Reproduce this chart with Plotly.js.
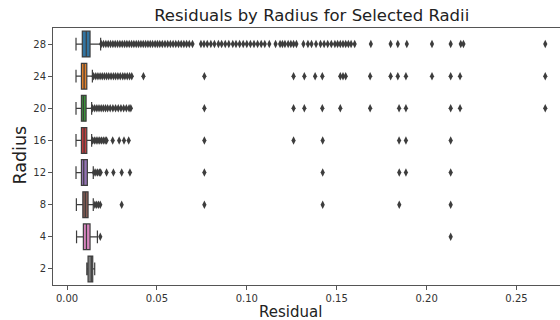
<!DOCTYPE html>
<html>
<head>
<meta charset="utf-8">
<script src="https://cdn.plot.ly/plotly-3.0.1.min.js"></script>
<style>html,body{margin:0;padding:0;background:#fff;overflow:hidden}#chart{width:560px;height:320px}</style>
</head>
<body>
<div id="chart"></div>
<script>
// Data
const radii = ['28', '24', '20', '16', '12', '8', '4', '2'];
const lowerFence = [0.0050, 0.0050, 0.0050, 0.0050, 0.0050, 0.0052, 0.0053, 0.0110];
const q1 = [0.0085, 0.0080, 0.0080, 0.0080, 0.0080, 0.0088, 0.0091, 0.0117];
const median = [0.0107, 0.0095, 0.0091, 0.0095, 0.0093, 0.0102, 0.0108, 0.0135];
const q3 = [0.0128, 0.0110, 0.0106, 0.0110, 0.0113, 0.0117, 0.0128, 0.0143];
const upperFence = [0.0187, 0.0141, 0.0137, 0.0137, 0.0146, 0.0146, 0.0169, 0.0154];
const colors = ['#3274a1', '#e1812c', '#3a923a', '#c03d3e', '#9372b2', '#845b53', '#d684bd', '#7f7f7f'];

const out28 = [0.0190, 0.0203, 0.0216, 0.0229, 0.0242, 0.0255, 0.0268, 0.0281, 0.0294, 0.0307, 0.0320, 0.0333,
  0.0346, 0.0359, 0.0372, 0.0385, 0.0398, 0.0411, 0.0424, 0.0437, 0.0450, 0.0463, 0.0476, 0.0490, 0.0503,
  0.0516, 0.0530, 0.0545, 0.0560, 0.0575, 0.0590, 0.0605, 0.0620, 0.0635, 0.0650, 0.0665, 0.0680, 0.0698,
  0.0745, 0.0762, 0.0780, 0.0800, 0.0820, 0.0842, 0.0860, 0.0880, 0.0900, 0.0922, 0.0940, 0.0960, 0.0980,
  0.1000, 0.1020, 0.1040, 0.1060, 0.1080, 0.1100, 0.1125, 0.1160, 0.1185, 0.1198, 0.1212, 0.1230, 0.1245,
  0.1260, 0.1276, 0.1315, 0.1340, 0.1360, 0.1385, 0.1410, 0.1430, 0.1450, 0.1470, 0.1490, 0.1505, 0.1520,
  0.1535, 0.1550, 0.1565, 0.1580, 0.1600, 0.1690, 0.1800, 0.1840, 0.1890, 0.2030, 0.2134, 0.2190, 0.2205, 0.2660];
const out24 = [0.0148, 0.0160, 0.0172, 0.0184, 0.0196, 0.0208, 0.0220, 0.0232, 0.0245, 0.0258, 0.0270, 0.0283,
  0.0296, 0.0310, 0.0322, 0.0335, 0.0348, 0.0360, 0.0425, 0.0764, 0.1260, 0.1320, 0.1380, 0.1420, 0.1520,
  0.1535, 0.1550, 0.1686, 0.1800, 0.1840, 0.1885, 0.2030, 0.2134, 0.2186, 0.2660];
const out20 = [0.0142, 0.0154, 0.0166, 0.0178, 0.0190, 0.0202, 0.0214, 0.0226, 0.0240, 0.0255, 0.0270, 0.0285,
  0.0300, 0.0315, 0.0330, 0.0345, 0.0355, 0.0764, 0.1260, 0.1320, 0.1420, 0.1520, 0.1686, 0.1847, 0.1885,
  0.2134, 0.2186, 0.2660];
const out16 = [0.0142, 0.0152, 0.0162, 0.0172, 0.0182, 0.0192, 0.0202, 0.0212, 0.0220, 0.0254, 0.0290, 0.0317,
  0.0343, 0.0764, 0.1260, 0.1422, 0.1847, 0.1885, 0.2134];
const out12 = [0.0150, 0.0160, 0.0170, 0.0180, 0.0187, 0.0220, 0.0258, 0.0304, 0.0350, 0.0764, 0.1422, 0.1848,
  0.1885, 0.2134];
const out8 = [0.0155, 0.0165, 0.0175, 0.0185, 0.0304, 0.0764, 0.1422, 0.1848, 0.2134];
const out4 = [0.0185, 0.2134];
const out2 = [];
const outliers = [out28, out24, out20, out16, out12, out8, out4, out2];

const xTicks = [0.00, 0.05, 0.10, 0.15, 0.20, 0.25];

const lineCol = '#3d3d3d';
const traces = [];
radii.forEach((r, i) => {
  traces.push({
    type: 'box', orientation: 'h', y: [r],
    q1: [q1[i]], median: [median[i]], q3: [q3[i]],
    lowerfence: [lowerFence[i]], upperfence: [upperFence[i]],
    fillcolor: colors[i], line: {color: lineCol, width: 1.2},
    width: 0.8, whiskerwidth: 0.5, boxpoints: false,
    hoverinfo: 'skip', showlegend: false
  });
});
radii.forEach((r, i) => {
  if (!outliers[i].length) return;
  traces.push({
    type: 'scatter', mode: 'markers',
    x: outliers[i], y: outliers[i].map(() => r),
    marker: {symbol: 'diamond-tall', size: 6, color: lineCol, line: {width: 0}},
    hoverinfo: 'skip', showlegend: false
  });
});

const font = 'DejaVu Sans, sans-serif';
const layout = {
  width: 560, height: 320,
  margin: {l: 53, r: 0, t: 28, b: 35, pad: 0},
  paper_bgcolor: '#fff', plot_bgcolor: '#fff',
  font: {family: font, color: '#333', size: 10},
  boxmode: 'overlay',
  title: {text: 'Residuals by Radius for Selected Radii', font: {family: font, size: 16.5, color: '#222'},
    x: 0.5566, xref: 'container', xanchor: 'center', y: 0.953, yref: 'container', yanchor: 'middle'},
  xaxis: {
    range: [-0.0078, 0.2742], tickvals: xTicks, ticktext: xTicks.map(v => v.toFixed(2)),
    showgrid: false, zeroline: false, showline: true, linecolor: '#555', linewidth: 1, mirror: true,
    ticks: 'outside', ticklen: 4, tickcolor: '#555', tickwidth: 1,
    tickfont: {family: font, size: 10, color: '#333'}
  },
  yaxis: {
    type: 'category', categoryorder: 'array', categoryarray: radii, range: [7.5, -0.5],
    showgrid: false, zeroline: false, showline: true, linecolor: '#555', linewidth: 1,
    ticks: 'outside', ticklen: 4, tickcolor: '#555', tickwidth: 1,
    tickfont: {family: font, size: 10, color: '#333'}
  },
  annotations: [{
    text: 'Residual', xref: 'paper', yref: 'paper', x: 0.469, y: 0, yshift: -27,
    xanchor: 'center', yanchor: 'middle', showarrow: false,
    font: {family: font, size: 15, color: '#222'}
  }, {
    text: 'Radius', xref: 'paper', yref: 'paper', x: 0, xshift: -34, y: 0.5, yshift: 1,
    xanchor: 'center', yanchor: 'middle', textangle: -90, showarrow: false,
    font: {family: font, size: 17.5, color: '#222'}
  }]
};

Plotly.newPlot('chart', traces, layout, {staticPlot: true, displayModeBar: false});
</script>
</body>
</html>
